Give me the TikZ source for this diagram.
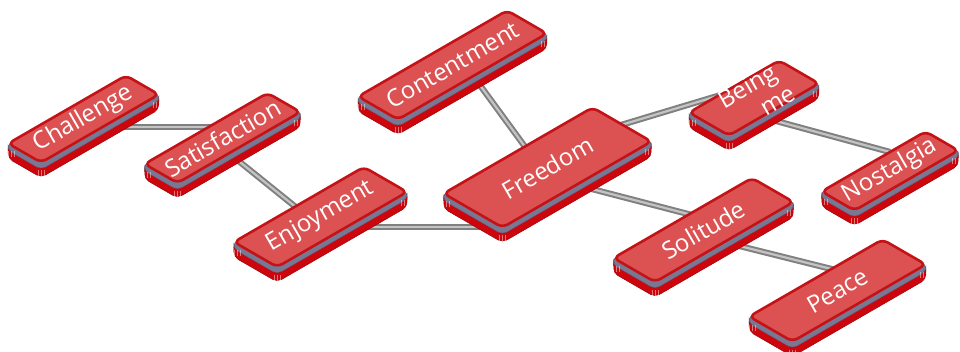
\documentclass[tikz,border=0pt]{standalone}
\usepackage{fontspec}
\setsansfont{Open Sans}
\usetikzlibrary{backgrounds}

\definecolor{tiletop}{RGB}{220,82,82}
\definecolor{tileedge}{RGB}{196,18,22}
\definecolor{tileside}{RGB}{204,6,12}
\definecolor{tilerim}{RGB}{120,120,148}
\definecolor{linkdark}{RGB}{128,128,128}
\definecolor{linklight}{RGB}{196,196,196}

\tikzset{
  tile side/.style={fill=tileside, draw=tileside!75!black, line width=0.5pt, rounded corners=5pt},
  tile rim/.style={fill=tilerim, draw=tilerim!80!black, line width=0.4pt, rounded corners=5pt},
  tile top/.style={fill=tiletop, draw=tileedge, line width=2.6pt, rounded corners=6pt},
  tile stripe/.style={draw=white, opacity=0.45, line width=0.6pt},
  tiletext/.style={text=white, rotate=30, align=center, inner sep=1pt,
    font=\sffamily\fontsize{24}{28}\selectfont},
  link/.style={draw=linkdark, line width=2pt, double=linklight, double distance=2.2pt}
}

% isometric slab: name, centre x, centre y, half length, half width, text
\newcommand\isotile[6]{%
  \begin{scope}[shift={(#2,#3)}, x={(0.866pt,0.5pt)}, y={(-0.866pt,0.5pt)}]
    \fill[tile side] (-#4,#5) -- (#4,#5) -- (#4,-#5) -- ([yshift=-15pt]#4,-#5)
      -- ([yshift=-15pt]-#4,-#5) -- ([yshift=-15pt]-#4,#5) -- cycle;
    \filldraw[tile rim] (-#4,#5) -- (#4,#5) -- (#4,-#5) -- ([yshift=-7pt]#4,-#5)
      -- ([yshift=-7pt]-#4,-#5) -- ([yshift=-7pt]-#4,#5) -- cycle;
    \foreach \d in {-3,0,3} {
      \draw[tile stripe] ([xshift=\d pt,yshift=-8pt]-#4,-#5) -- ++(0pt,-6pt);
      \draw[tile stripe] ([xshift=\d pt+3pt,yshift=-8pt]-#4,#5) -- ++(0pt,-6pt);
      \draw[tile stripe] ([xshift=\d pt-3pt,yshift=-8pt]#4,-#5) -- ++(0pt,-6pt);
    }
    \filldraw[tile top] (-#4,-#5) -- (#4,-#5) -- (#4,#5) -- (-#4,#5) -- cycle;
    \node[tiletext] (#1) at (0,0) {#6};
    \coordinate (#1 b) at (0pt,-10pt);
  \end{scope}}

\begin{document}
\begin{tikzpicture}[x=1pt, y=-1pt]
  \useasboundingbox (0,0) rectangle (960,352);

  % slabs, back to front
  \isotile{contentment}{452.5}{65}{86}{23}{Contentment}
  \isotile{challenge}{83.5}{119}{68}{19}{Challenge}
  \isotile{being}{754}{98}{52}{23}{Being\\\hspace*{1.6em}me}
  \isotile{satisfaction}{222.5}{138}{71}{19}{Satisfaction}
  \isotile{freedom}{547.5}{167.5}{86}{34}{Freedom}
  \isotile{nostalgia}{890}{171}{60}{19}{Nostalgia}
  \isotile{enjoyment}{320.5}{217}{75}{25}{Enjoyment}
  \isotile{solitude}{703.5}{230}{80}{24}{Solitude}
  \isotile{peace}{837.5}{290.5}{77}{25}{Peace}

  % rods under the slabs
  \begin{scope}[on background layer]
    \draw[link] ([yshift=-8pt]challenge.center) -| (satisfaction.center);
    \draw[link] (satisfaction b) -- (enjoyment b);
    \draw[link] (enjoyment b) -- (enjoyment b -| freedom.west);
    \draw[link] ([xshift=20pt]contentment b) -- (freedom b);
    \draw[link] ([xshift=12pt,yshift=24pt]freedom.center) -- ([yshift=13pt]being.center);
    \draw[link] ([yshift=-17pt]being.center) -- ([yshift=19pt]nostalgia.center);
    \draw[link] (freedom b) -- ([yshift=12pt]solitude.center);
    \draw[link] ([yshift=-7pt]solitude.center) -- ([yshift=20pt]peace.center);
  \end{scope}
\end{tikzpicture}
\end{document}
